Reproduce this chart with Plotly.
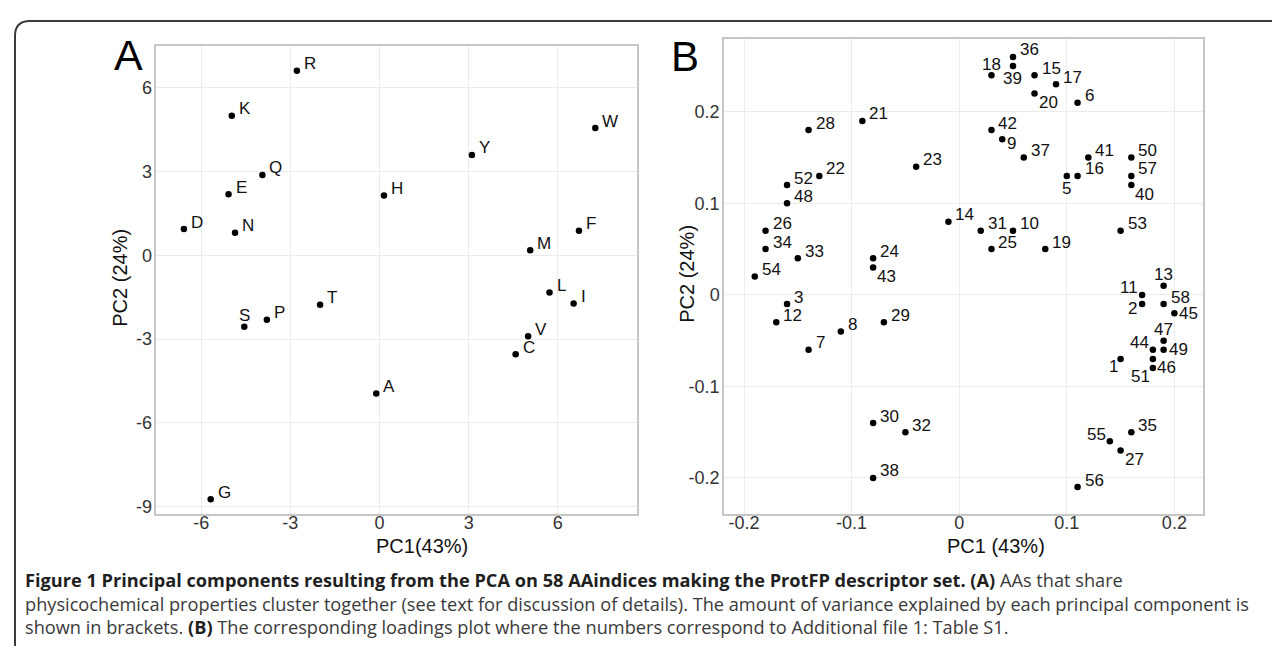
import plotly.graph_objects as go

# ---------------- Data ----------------
# Panel A: amino-acid scores
aa_labels = ["R", "K", "W", "Y", "Q", "E", "H", "D", "N", "F",
             "M", "L", "I", "T", "P", "S", "V", "C", "A", "G"]
aa_pc1 = [-2.78, -4.97, 7.26, 3.11, -3.94, -5.08, 0.15, -6.58, -4.86, 6.71,
          5.07, 5.72, 6.53, -2.00, -3.79, -4.55, 5.00, 4.58, -0.11, -5.68]
aa_pc2 = [6.62, 5.00, 4.56, 3.60, 2.88, 2.19, 2.14, 0.94, 0.81, 0.88,
          0.18, -1.33, -1.73, -1.77, -2.31, -2.56, -2.90, -3.55, -4.95, -8.74]
aa_pos = ["tr"] * 15 + ["t"] + ["tr"] * 4

# Panel B: AAindex loadings
ld_labels = ["1", "2", "3", "5", "6", "7", "8", "9", "10", "11",
             "12", "13", "14", "15", "16", "17", "18", "19", "20", "21",
             "22", "23", "24", "25", "26", "27", "28", "29", "30", "31",
             "32", "33", "34", "35", "36", "37", "38", "39", "40", "41",
             "42", "43", "44", "45", "46", "47", "48", "49", "50", "51",
             "52", "53", "54", "55", "56", "57", "58"]
ld_pc1 = [0.15, 0.17, -0.16, 0.10, 0.11, -0.14, -0.11, 0.04, 0.05, 0.17,
          -0.17, 0.19, -0.01, 0.07, 0.11, 0.09, 0.03, 0.08, 0.07, -0.09,
          -0.13, -0.04, -0.08, 0.03, -0.18, 0.15, -0.14, -0.07, -0.08, 0.02,
          -0.05, -0.15, -0.18, 0.16, 0.05, 0.06, -0.08, 0.05, 0.16, 0.12,
          0.03, -0.08, 0.18, 0.20, 0.18, 0.19, -0.16, 0.19, 0.16, 0.18,
          -0.16, 0.15, -0.19, 0.14, 0.11, 0.16, 0.19]
ld_pc2 = [-0.07, -0.01, -0.01, 0.13, 0.21, -0.06, -0.04, 0.17, 0.07, 0.00,
          -0.03, 0.01, 0.08, 0.24, 0.13, 0.23, 0.24, 0.05, 0.22, 0.19,
          0.13, 0.14, 0.04, 0.05, 0.07, -0.17, 0.18, -0.03, -0.14, 0.07,
          -0.15, 0.04, 0.05, -0.15, 0.26, 0.15, -0.20, 0.25, 0.12, 0.15,
          0.18, 0.03, -0.06, -0.02, -0.07, -0.05, 0.10, -0.06, 0.15, -0.08,
          0.12, 0.07, 0.02, -0.16, -0.21, 0.13, -0.01]
ld_pos = ["bl", "l", "tr", "b", "tr", "tr", "tr", "rd", "tr", "tl",
          "tr", "t", "tr", "tr", "tr", "tr", "t", "tr", "br", "tr",
          "tr", "tr", "tr", "tr", "tr", "br", "tr", "tr", "tr", "tr",
          "tr", "tr", "tr", "tr", "tr", "tr", "tr", "b", "br", "tr",
          "tr", "br", "tl", "r", "br", "t", "tr", "r", "tr", "bl",
          "tr", "tr", "tr", "tl", "tr", "tr", "tr"]

a_xticks = [-6, -3, 0, 3, 6]
a_xticktext = ["-6", "-3", "0", "3", "6"]
a_yticks = [-9, -6, -3, 0, 3, 6]
a_yticktext = ["-9", "-6", "-3", "0", "3", "6"]
b_ticks = [-0.2, -0.1, 0, 0.1, 0.2]
b_ticktext = ["-0.2", "-0.1", "0", "0.1", "0.2"]

caption_lines = [
    '<span style="color:#1f1f1f"><b>Figure 1 Principal components resulting from the PCA on 58 AAindices making the ProtFP descriptor set. (A)</b></span> AAs that share',
    "physicochemical properties cluster together (see text for discussion of details). The amount of variance explained by each principal component is",
    'shown in brackets. <span style="color:#1f1f1f"><b>(B)</b></span> The corresponding loadings plot where the numbers correspond to Additional file 1: Table S1.',
]

# ---------------- Layout helpers ----------------
W, H = 1280, 646
FONT = "Liberation Sans, Arial, Helvetica, sans-serif"


def px(x):
    return x / W


def py(y):
    return 1 - y / H


POS = {
    "tr": ("left", 5, 7),
    "tl": ("right", -2, 7),
    "t": ("center", 0, 11),
    "b": ("center", 0, -12.5),
    "br": ("left", 2, -9),
    "bl": ("right", -1, -8),
    "r": ("left", 3, 0),
    "rd": ("left", 3, -4),
    "l": ("right", -3, -4),
}

fig = go.Figure()
fig.add_trace(go.Scatter(x=aa_pc1, y=aa_pc2, mode="markers", xaxis="x", yaxis="y",
                         marker=dict(color="black", size=6.5), hoverinfo="text",
                         text=aa_labels, showlegend=False))
fig.add_trace(go.Scatter(x=ld_pc1, y=ld_pc2, mode="markers", xaxis="x2", yaxis="y2",
                         marker=dict(color="black", size=6.5), hoverinfo="text",
                         text=ld_labels, showlegend=False))

annotations = []


def add_labels(xs, ys, labels, poss, xref, yref):
    for x, y, t, p in zip(xs, ys, labels, poss):
        xa, xs_, ys_ = POS[p]
        annotations.append(dict(x=x, y=y, xref=xref, yref=yref, text=t,
                                showarrow=False, xanchor=xa, yanchor="middle",
                                xshift=xs_, yshift=ys_,
                                font=dict(family=FONT, size=17, color="#111111")))


add_labels(aa_pc1, aa_pc2, aa_labels, aa_pos, "x", "y")
add_labels(ld_pc1, ld_pc2, ld_labels, ld_pos, "x2", "y2")

# panel letters
annotations.append(dict(x=px(120), y=py(47), xref="paper", yref="paper", text="A",
                        showarrow=False, xanchor="center", yanchor="middle",
                        font=dict(family=FONT, size=43, color="black")))
annotations.append(dict(x=px(677), y=py(49), xref="paper", yref="paper", text="B",
                        showarrow=False, xanchor="center", yanchor="middle",
                        font=dict(family=FONT, size=42, color="black")))

# axis titles
for xc, txt in [(414, "PC1(43%)"), (988, "PC1 (43%)")]:
    annotations.append(dict(x=px(xc), y=py(541), xref="paper", yref="paper", text=txt,
                            showarrow=False, xanchor="center", yanchor="middle",
                            font=dict(family=FONT, size=20, color="#111111")))
for xc, yc in [(112, 271), (679, 267)]:
    annotations.append(dict(x=px(xc), y=py(yc), xref="paper", yref="paper", text="PC2 (24%)",
                            showarrow=False, xanchor="center", yanchor="middle", textangle=-90,
                            font=dict(family=FONT, size=20, color="#111111")))

# caption (single multi-line text)
annotations.append(dict(x=px(15), y=py(598), xref="paper", yref="paper",
                        text="<br>".join(caption_lines),
                        showarrow=False, xanchor="left", yanchor="middle", align="left",
                        font=dict(family="Open Sans, sans-serif", size=18.2, color="#3a3a3a")))

axis_common = dict(showgrid=True, gridcolor="#ececec", gridwidth=1, zeroline=False,
                   showline=True, linecolor="#c6c6c6", linewidth=1.5, mirror=True,
                   ticks="", tickfont=dict(family=FONT, size=18, color="#333333"),
                   fixedrange=True)

fig.update_layout(
    width=W, height=H, margin=dict(l=0, r=0, t=0, b=0),
    paper_bgcolor="white", plot_bgcolor="white", showlegend=False,
    xaxis=dict(domain=[px(148.3), px(629.2)], range=[-7.51, 8.67],
               tickvals=a_xticks, ticktext=a_xticktext, anchor="y",
               ticklabelstandoff=-8, **axis_common),
    yaxis=dict(domain=[py(508.3), py(37.7)], range=[-9.27, 7.52],
               tickvals=a_yticks, ticktext=a_yticktext, anchor="x",
               ticklabelstandoff=-1, **axis_common),
    xaxis2=dict(domain=[px(716), px(1195)], range=[-0.2186, 0.2266],
                tickvals=b_ticks, ticktext=b_ticktext, anchor="y2",
                ticklabelstandoff=-8, **axis_common),
    yaxis2=dict(domain=[py(508.3), py(31)], range=[-0.2393, 0.2797],
                tickvals=b_ticks, ticktext=b_ticktext, anchor="x2",
                ticklabelstandoff=-1, **axis_common),
    annotations=annotations,
    shapes=[dict(type="path", xref="paper", yref="paper",
                 path=f"M {px(7)},{py(646)} L {px(7)},{py(28)} Q {px(7)},{py(13)} {px(22)},{py(13)} L {px(1280)},{py(13)}",
                 line=dict(color="#3a3a3a", width=2))],
)

fig.write_html("out.html")
